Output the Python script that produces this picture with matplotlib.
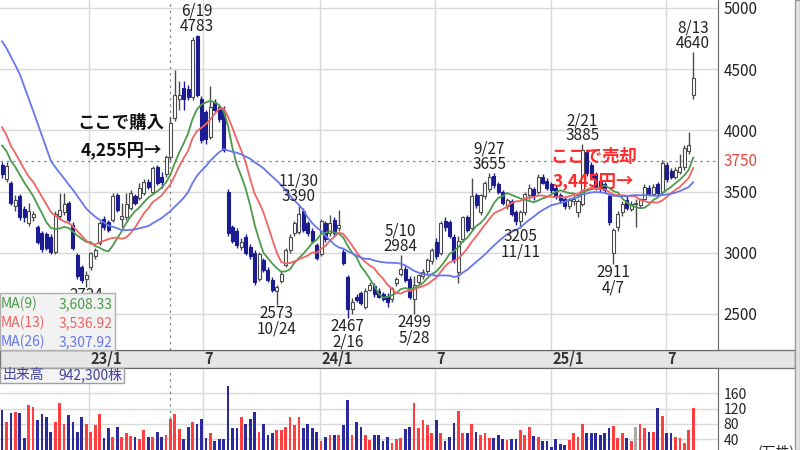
import matplotlib
matplotlib.use("Agg")
import matplotlib.pyplot as plt
from matplotlib.patches import Rectangle
import numpy as np
import pandas as pd

plt.rcParams["font.family"] = ["Noto Sans CJK JP", "DejaVu Sans"]

# weekly candles, first week starts 2022-08-15
start_week = "2022-08-15"

opens = [
    3720, 3600, 3570, 3380, 3460, 3360, 3240, 3290, 3210, 3160,
    3150, 3130, 3010, 3300, 3330, 3410, 3230, 2980, 2880, 2790,
    2880, 2970, 3080, 3280, 3250, 3270, 3470, 3280, 3290, 3370,
    3460, 3450, 3490, 3580, 3500, 3700, 3620, 3640, 3780, 4100,
    4260, 4350, 4340, 4270, 4770, 4260, 4150, 3950, 4230, 4190,
    4160, 3500, 3210, 3180, 3050, 3130, 3050, 3000, 2790, 2940,
    2860, 2780, 2690, 2770, 2900, 3020, 3160, 3170, 3340, 3240,
    3180, 3060, 2990, 3240, 3160, 3270, 3200, 3010, 2800, 2540,
    2640, 2670, 2560, 2700, 2730, 2690, 2660, 2650, 2620, 2750,
    2830, 2870, 2790, 2620, 2760, 2810, 2850, 2930, 3090, 3000,
    3260, 3250, 3130, 2840, 3110, 3290, 3200, 3470, 3330, 3460,
    3520, 3630, 3560, 3500, 3380, 3420, 3330, 3260, 3330, 3470,
    3520, 3500, 3620, 3590, 3560, 3530, 3470, 3440, 3380, 3420,
    3330, 3400, 3820, 3720, 3640, 3590, 3560, 3460, 3000, 3210,
    3330, 3430, 3360, 3400, 3390, 3440, 3530, 3480, 3560, 3500,
    3720, 3670, 3620, 3660, 3700, 3830, 4290,
]
highs = [
    3740, 3740, 3590, 3470, 3480, 3380, 3410, 3340, 3230, 3180,
    3170, 3150, 3340, 3490, 3490, 3420, 3250, 3000, 2900, 2850,
    3010, 3040, 3260, 3300, 3270, 3490, 3490, 3410, 3490, 3510,
    3480, 3570, 3600, 3600, 3710, 3720, 3660, 3800, 4110, 4490,
    4400, 4400, 4370, 4760, 4783, 4280, 4170, 4360, 4260, 4210,
    4200, 3520, 3230, 3200, 3120, 3150, 3070, 3020, 3010, 2960,
    2880, 2800, 2740, 2850, 3040, 3150, 3260, 3390, 3370, 3260,
    3200, 3080, 3280, 3260, 3310, 3290, 3350, 3030, 2820, 2630,
    2660, 2690, 2710, 2760, 2750, 2710, 2680, 2670, 2720, 2800,
    2984, 2890, 2810, 2810, 2830, 2870, 2960, 3040, 3120, 3260,
    3290, 3270, 3150, 3140, 3300, 3310, 3610, 3490, 3480, 3590,
    3655, 3650, 3580, 3510, 3450, 3440, 3350, 3350, 3500, 3560,
    3540, 3640, 3640, 3610, 3580, 3550, 3490, 3460, 3450, 3470,
    3440, 3885, 3850, 3740, 3660, 3610, 3580, 3480, 3200, 3340,
    3420, 3460, 3420, 3440, 3450, 3560, 3550, 3560, 3580, 3760,
    3740, 3690, 3700, 3810, 3880, 3990, 4640,
]
lows = [
    3610, 3580, 3390, 3340, 3270, 3250, 3220, 3260, 3070, 3010,
    3020, 2990, 2990, 3270, 3310, 3250, 3020, 2790, 2750, 2724,
    2860, 2950, 3060, 3190, 3170, 3250, 3330, 3210, 3270, 3350,
    3390, 3430, 3470, 3520, 3480, 3550, 3530, 3620, 3760, 4080,
    4170, 4170, 4250, 4250, 4270, 3900, 3890, 3930, 4150, 4070,
    3820, 3140, 3080, 3040, 3020, 2980, 2950, 2740, 2770, 2840,
    2760, 2680, 2573, 2750, 2880, 3000, 3140, 3150, 3170, 3140,
    3080, 2940, 2970, 3090, 3140, 3140, 3180, 2900, 2467, 2500,
    2600, 2570, 2540, 2690, 2640, 2630, 2610, 2560, 2600, 2730,
    2810, 2760, 2620, 2499, 2740, 2790, 2830, 2910, 2950, 2980,
    3180, 3120, 2920, 2750, 3090, 3170, 3180, 3370, 3310, 3440,
    3500, 3530, 3480, 3390, 3360, 3300, 3230, 3205, 3310, 3440,
    3430, 3480, 3560, 3510, 3490, 3440, 3410, 3360, 3360, 3390,
    3290, 3380, 3630, 3600, 3510, 3500, 3490, 3230, 2911, 3180,
    3300, 3350, 3340, 3210, 3370, 3420, 3460, 3460, 3470, 3480,
    3580, 3600, 3600, 3640, 3680, 3810, 4260,
]
closes = [
    3640, 3710, 3410, 3430, 3290, 3290, 3340, 3320, 3090, 3030,
    3040, 3010, 3320, 3350, 3400, 3270, 3040, 2810, 2780, 2820,
    3000, 3020, 3240, 3210, 3190, 3460, 3350, 3300, 3400, 3490,
    3410, 3530, 3580, 3540, 3690, 3570, 3580, 3780, 4060, 4290,
    4290, 4260, 4270, 4740, 4290, 3920, 3930, 4190, 4170, 4090,
    3840, 3160, 3100, 3060, 3090, 3000, 2970, 2760, 2990, 2860,
    2780, 2700, 2720, 2830, 3020, 3130, 3240, 3320, 3190, 3160,
    3100, 2960, 3260, 3110, 3240, 3160, 3230, 2920, 2540, 2600,
    2615, 2590, 2690, 2740, 2660, 2640, 2625, 2600, 2710, 2790,
    2870, 2780, 2640, 2740, 2820, 2840, 2940, 3020, 2970, 3240,
    3210, 3140, 2940, 3100, 3290, 3190, 3460, 3390, 3470, 3570,
    3620, 3550, 3500, 3410, 3430, 3320, 3260, 3330, 3480, 3530,
    3460, 3620, 3570, 3530, 3510, 3460, 3430, 3380, 3430, 3440,
    3420, 3840, 3650, 3620, 3530, 3520, 3510, 3250, 3190, 3320,
    3400, 3370, 3400, 3400, 3440, 3540, 3480, 3540, 3490, 3730,
    3600, 3620, 3680, 3700, 3860, 3880, 4430,
]
# volume in 万株
volumes = [
    116, 86, 109, 112, 109, 43, 129, 125, 90, 106,
    99, 60, 86, 134, 81, 103, 86, 60, 97, 80,
    60, 78, 106, 43, 68, 47, 73, 47, 57, 49,
    47, 40, 64, 47, 45, 60, 47, 50, 94, 106,
    66, 40, 73, 86, 81, 92, 43, 55, 34, 41,
    41, 179, 68, 68, 97, 81, 92, 112, 60, 81,
    51, 55, 64, 64, 73, 97, 78, 97, 68, 80,
    68, 60, 34, 45, 51, 51, 51, 78, 142, 51,
    86, 73, 51, 37, 51, 50, 36, 47, 30, 41,
    43, 66, 73, 134, 68, 90, 78, 57, 90, 55,
    34, 47, 82, 114, 55, 55, 81, 60, 51, 57,
    43, 43, 51, 41, 39, 41, 41, 64, 51, 73,
    49, 47, 36, 34, 20, 41, 28, 26, 39, 57,
    47, 81, 57, 55, 57, 51, 55, 68, 75, 43,
    55, 43, 34, 73, 80, 68, 60, 60, 121, 101,
    55, 57, 47, 43, 30, 64, 121,
]
# weekly closes before the visible window (only feed the moving averages)
prev_closes = [
    5150, 5230, 5260, 5180, 5850, 5950, 5900, 5760, 5700, 5680,
    5640, 4680, 4600, 4560, 4540, 4200, 4150, 4120, 4130, 3880,
    3860, 3850, 3830, 3820, 3750,
]

ma_periods = [9, 13, 26]
ma_colors = ["#4c9a4c", "#f06464", "#6677ee"]
ma_legend_values = ["3,608.33", "3,536.92", "3,307.92"]

high_marks = [(44, "6/19"), (67, "11/30"), (90, "5/10"), (110, "9/27"), (131, "2/21"), (156, "8/13")]
low_marks = [(19, ""), (62, "10/24"), (78, "2/16"), (93, "5/28"), (117, "11/11"), (138, "4/7")]

buy_week = 38
target_price = 3750
month_starts = ["2023-01-01", "2023-07-01", "2024-01-01", "2024-07-01", "2025-01-01", "2025-07-01"]
month_labels = ["23/1", "7", "24/1", "7", "25/1", "7"]
price_ticks = [2500, 3000, 3500, 4000, 4500, 5000]
volume_ticks = [40, 80, 120, 160]

W, H = 800, 450


def fx(px):
    return px / W


def fy(py):
    return 1 - py / H


UP_EDGE = "#4a4a4a"
DOWN = "#1c1c92"
GRID = "#d9d9d9"

weeks = pd.date_range(start_week, periods=len(closes), freq="W-MON")
idx = np.arange(len(closes))
o = np.array(opens, float)
c = np.array(closes, float)
hi = np.array(highs, float)
lo = np.array(lows, float)

all_close = pd.Series(prev_closes + closes, dtype=float)
n_prev = len(prev_closes)

fig = plt.figure(figsize=(8, 4.5), dpi=100)
ax = fig.add_axes([0, fy(350), fx(718), fy(0) - fy(350)])
axv = fig.add_axes([0, 0, fx(718), fy(368)])

xlim = ((0 - 2.1) / 4.43, (718 - 2.1) / 4.43)
grid_pos = [(pd.Timestamp(m) - weeks[0]).days / 7 - 0.3 for m in month_starts]

# ---- price panel
ax.set_xlim(*xlim)
ax.set_ylim(5000 - 342 * 500 / 61.2, 5000 + 8 * 500 / 61.2)
for p in price_ticks:
    ax.axhline(p, color=GRID, lw=1, zorder=0)
for g in grid_pos:
    ax.axvline(g, color=GRID, lw=1, zorder=0)
ax.axhline(target_price, color="#888888", lw=0.9, ls=(0, (2, 3)), zorder=1)
ax.axvline(buy_week, color="#888888", lw=0.9, ls=(0, (2, 3)), zorder=1)

up = c > o
down = c < o
flat = c == o
wick_colors = np.where(down, DOWN, UP_EDGE)
ax.vlines(idx, lo, hi, colors=wick_colors, lw=1, zorder=3)
body_bottom = np.minimum(o, c)
body_height = np.maximum(np.abs(c - o), 6)
ax.bar(idx[up | flat], body_height[up | flat], bottom=body_bottom[up | flat], width=0.68,
       facecolor="white", edgecolor=UP_EDGE, linewidth=0.8, zorder=4)
ax.bar(idx[down], body_height[down], bottom=body_bottom[down], width=0.68,
       facecolor=DOWN, edgecolor=DOWN, linewidth=0.8, zorder=4)

for n, col in zip(ma_periods, ma_colors):
    ma = all_close.rolling(n).mean().to_numpy()[n_prev:]
    ax.plot(idx, ma, color=col, lw=1.3, zorder=5)

for i, d in high_marks:
    ax.annotate(f"{d}\n{highs[i]}", (i, hi[i]), xytext=(0, 0), textcoords="offset points",
                ha="center", va="bottom", fontsize=11, color="#222222", linespacing=0.88, zorder=6)
for i, d in low_marks:
    txt = f"{lows[i]}\n{d}" if d else f"{lows[i]}"
    ax.annotate(txt, (i, lo[i]), xytext=(0, 0), textcoords="offset points",
                ha="center", va="top", fontsize=11, color="#222222", linespacing=0.88, zorder=6)

ax.yaxis.tick_right()
ax.set_yticks(price_ticks)
ax.set_yticklabels([str(p) for p in price_ticks])
ax.tick_params(axis="y", length=0, pad=4, labelsize=11, labelcolor="#222222")
ax.set_xticks([])
ax.annotate(str(target_price), (1, target_price), xycoords=("axes fraction", "data"),
            xytext=(4, 0), textcoords="offset points", ha="left", va="center",
            fontsize=11, color="#e8473c")
for s in ["left", "top"]:
    ax.spines[s].set_visible(False)
for s in ["right", "bottom"]:
    ax.spines[s].set_color("#666666")

# ---- volume panel
axv.set_xlim(*xlim)
axv.set_ylim((454.5 - 450) / 0.3825, (454.5 - 368) / 0.3825)
for v in volume_ticks:
    axv.axhline(v, color=GRID, lw=1, zorder=0)
for g in grid_pos:
    axv.axvline(g, color=GRID, lw=1, zorder=0)
axv.axvline(buy_week, color="#888888", lw=0.9, ls=(0, (2, 3)), zorder=1)
vol_colors = np.where(up, "#ff3f3f", np.where(down, "#2a2a9c", "#aaaaaa"))
axv.bar(idx, volumes, width=0.62, color=vol_colors, zorder=3)
axv.yaxis.tick_right()
axv.set_yticks(volume_ticks)
axv.tick_params(axis="y", length=0, pad=4, labelsize=10, labelcolor="#222222")
axv.set_xticks([])
for s in ["left", "bottom"]:
    axv.spines[s].set_visible(False)
for s in ["right", "top"]:
    axv.spines[s].set_color("#666666")

# ---- date band
fig.patches.append(Rectangle((0, fy(368)), fx(795), fy(350) - fy(368), transform=fig.transFigure,
                             facecolor="#e6e6e6", edgecolor="#777777", lw=1, zorder=-1))
fig.patches.append(Rectangle((fx(795), 0), fx(5), 1, transform=fig.transFigure,
                             facecolor="#e4e4e4", edgecolor="#999999", lw=1, zorder=-1))
for g, lab in zip(grid_pos, month_labels):
    ax.text(g + 0.3, -9 / 350, lab, transform=ax.get_xaxis_transform(), ha="left", va="center",
            fontsize=10.5, color="#333333", fontweight="bold", clip_on=False)

# ---- MA legend box
fig.patches.append(Rectangle((0, fy(350)), fx(115), fy(293) - fy(350), transform=fig.transFigure,
                             facecolor="#f2f2f2", edgecolor="#b0b0b0", lw=1, zorder=2))
for k, (n, col, val) in enumerate(zip(ma_periods, ma_colors, ma_legend_values)):
    yy = fy(304 + 19 * k)
    fig.text(fx(1), yy, f"MA({n})", color=col, fontsize=10, va="center", ha="left", zorder=3)
    fig.text(fx(113), yy, val, color=col, fontsize=10, va="center", ha="right", zorder=3)

# ---- volume legend box
fig.patches.append(Rectangle((0, fy(383)), fx(124), fy(368) - fy(383), transform=fig.transFigure,
                             facecolor="#f4f4f4", edgecolor="#a0a0a0", lw=1, zorder=2))
fig.text(fx(2), fy(375), "出来高", color="#40409a", fontsize=10, va="center", ha="left", zorder=3)
fig.text(fx(122), fy(375), "942,300株", color="#40409a", fontsize=10, va="center", ha="right", zorder=3)
fig.text(fx(758), fy(444), "(万株)", color="#222222", fontsize=10, va="top", ha="left")

# ---- buy / sell notes
fig.text(fx(121), fy(123), "ここで購入", fontsize=12.5, color="#111111", fontweight="bold",
         ha="center", va="center", zorder=4)
fig.text(fx(121), fy(150), "4,255円→", fontsize=12.5, color="#111111", fontweight="bold",
         ha="center", va="center", zorder=4)
fig.text(fx(594), fy(157), "ここで売却", fontsize=12.5, color="#ff2a2a", fontweight="bold",
         ha="center", va="center", zorder=4)
fig.text(fx(593), fy(181), "3,445円→", fontsize=12.5, color="#ff2a2a", fontweight="bold",
         ha="center", va="center", zorder=4)

fig.savefig("out.png", dpi=100)
